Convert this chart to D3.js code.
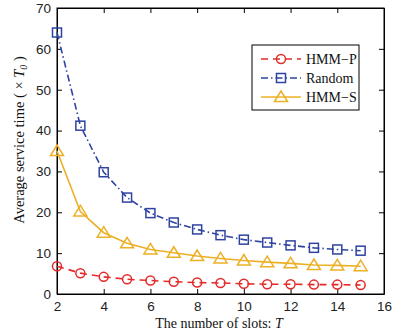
<!DOCTYPE html>
<html>
<head>
<meta charset="utf-8">
<script src="https://cdn.jsdelivr.net/npm/d3@7"></script>
<style>
  body { margin: 0; background: #fff; }
  svg { display: block; }
</style>
</head>
<body>
<svg id="chart" width="394" height="334"></svg>
<script>
// slot counts T on the x axis
const slots = [2, 3, 4, 5, 6, 7, 8, 9, 10, 11, 12, 13, 14, 15];
// average service time
const hmmP = [6.8, 5.1, 4.2, 3.6, 3.3, 3.0, 2.8, 2.7, 2.5, 2.4, 2.4, 2.3, 2.3, 2.2];
const random = [64, 41.2, 29.8, 23.6, 19.8, 17.5, 15.8, 14.4, 13.3, 12.6, 11.9, 11.3, 10.9, 10.6];
const hmmS = [35, 20.2, 15.0, 12.4, 10.9, 10.1, 9.3, 8.7, 8.2, 7.8, 7.5, 7.1, 7.0, 6.8];
const xTicks = [2, 4, 6, 8, 10, 12, 14, 16];
const yTicks = [0, 10, 20, 30, 40, 50, 60, 70];

const margin = { top: 8, right: 10, bottom: 40, left: 57 };
const width = 394 - margin.left - margin.right,
      height = 334 - margin.top - margin.bottom;

const svg = d3.select('#chart');
const g = svg.append('g')
    .attr('transform', 'translate(' + margin.left + ',' + margin.top + ')');

const x = d3.scaleLinear().domain([2, 16]).range([0, width]);
const y = d3.scaleLinear().domain([0, 70]).range([height, 0]);

// axes with inward ticks, matlab style box
const tickFont = g => g.selectAll('text')
    .attr('font-family', 'Liberation Sans, Arial, sans-serif')
    .attr('font-size', 13.5).attr('fill', '#222');

g.append('g')
    .attr('transform', 'translate(0,' + height + ')')
    .call(d3.axisBottom(x).tickValues(xTicks).tickSize(-5).tickPadding(7).tickSizeOuter(0))
    .call(tickFont);
g.append('g')
    .call(d3.axisLeft(y).tickValues(yTicks).tickSize(-5).tickPadding(6).tickSizeOuter(0))
    .call(tickFont);
g.append('g')
    .call(d3.axisTop(x).tickValues(xTicks).tickSize(-5).tickFormat('').tickSizeOuter(0));
g.append('g')
    .attr('transform', 'translate(' + width + ',0)')
    .call(d3.axisRight(y).tickValues(yTicks).tickSize(-5).tickFormat('').tickSizeOuter(0));
g.selectAll('.domain').attr('stroke', '#000');
g.selectAll('.tick line').attr('stroke', '#000');

g.append('rect')
    .attr('width', width).attr('height', height)
    .attr('fill', 'none').attr('stroke', '#000');

const series = [
    { name: 'HMM\u2212P', values: hmmP, color: '#e32b2a', dash: '7,5', marker: 'circle' },
    { name: 'Random', values: random, color: '#2f44a0', dash: '7,3,1.5,3', marker: 'square' },
    { name: 'HMM\u2212S', values: hmmS, color: '#ecb026', dash: null, marker: 'triangle' }
];

const line = d3.line()
    .x((d, i) => x(slots[i]))
    .y(d => y(d));

const drawMarker = (sel, s, cx, cy) => {
    if (s.marker === 'circle') {
        sel.append('circle').attr('cx', cx).attr('cy', cy).attr('r', 4.5)
            .attr('fill', 'none').attr('stroke', s.color).attr('stroke-width', 1.5);
    } else if (s.marker === 'square') {
        sel.append('rect').attr('x', cx - 4.5).attr('y', cy - 4.5)
            .attr('width', 9).attr('height', 9)
            .attr('fill', 'none').attr('stroke', s.color).attr('stroke-width', 1.5);
    } else {
        sel.append('path')
            .attr('d', 'M' + cx + ',' + (cy - 6) + 'L' + (cx + 6.5) + ',' + (cy + 4.5) + 'L' + (cx - 6.5) + ',' + (cy + 4.5) + 'Z')
            .attr('fill', 'none').attr('stroke', s.color).attr('stroke-width', 1.5);
    }
};

series.forEach(s => {
    g.append('path')
        .datum(s.values)
        .attr('d', line)
        .attr('fill', 'none')
        .attr('stroke', s.color)
        .attr('stroke-width', 1.6)
        .attr('stroke-dasharray', s.dash);
    const mg = g.append('g');
    s.values.forEach((v, i) => drawMarker(mg, s, x(slots[i]), y(v)));
});

// legend
const lx = 252 - margin.left, ly = 45 - margin.top;
const legend = g.append('g').attr('transform', 'translate(' + lx + ',' + ly + ')');
legend.append('rect').attr('width', 107).attr('height', 65)
    .attr('fill', '#fff').attr('stroke', '#000');
series.forEach((s, i) => {
    const yy = 14 + i * 19;
    legend.append('line').attr('x1', 9).attr('x2', 49).attr('y1', yy).attr('y2', yy)
        .attr('stroke', s.color).attr('stroke-width', 1.6)
        .attr('stroke-dasharray', s.dash);
    drawMarker(legend, s, 29, yy);
    legend.append('text').attr('x', 54).attr('y', yy + 5)
        .attr('font-family', 'Liberation Serif, Times New Roman, serif')
        .attr('font-size', 14).attr('fill', '#111')
        .text(s.name);
});

// axis labels
const serif = 'Liberation Serif, Times New Roman, serif';
const xl = svg.append('text')
    .attr('x', 219).attr('y', 328)
    .attr('text-anchor', 'middle')
    .attr('font-family', serif).attr('font-size', 14).attr('fill', '#111');
xl.append('tspan').text('The number of slots: ');
xl.append('tspan').attr('font-style', 'italic').text('T');

const yl = svg.append('text')
    .attr('transform', 'translate(24,140) rotate(-90)')
    .attr('text-anchor', 'middle')
    .attr('font-family', serif).attr('font-size', 14.5).attr('fill', '#111');
yl.append('tspan').text('Average service time ( \u00d7 ');
yl.append('tspan').attr('font-style', 'italic').text('T');
yl.append('tspan').attr('font-style', 'italic').attr('font-size', 10).attr('dy', 3).text('0');
yl.append('tspan').attr('dy', -3).text(' )');
</script>
</body>
</html>
